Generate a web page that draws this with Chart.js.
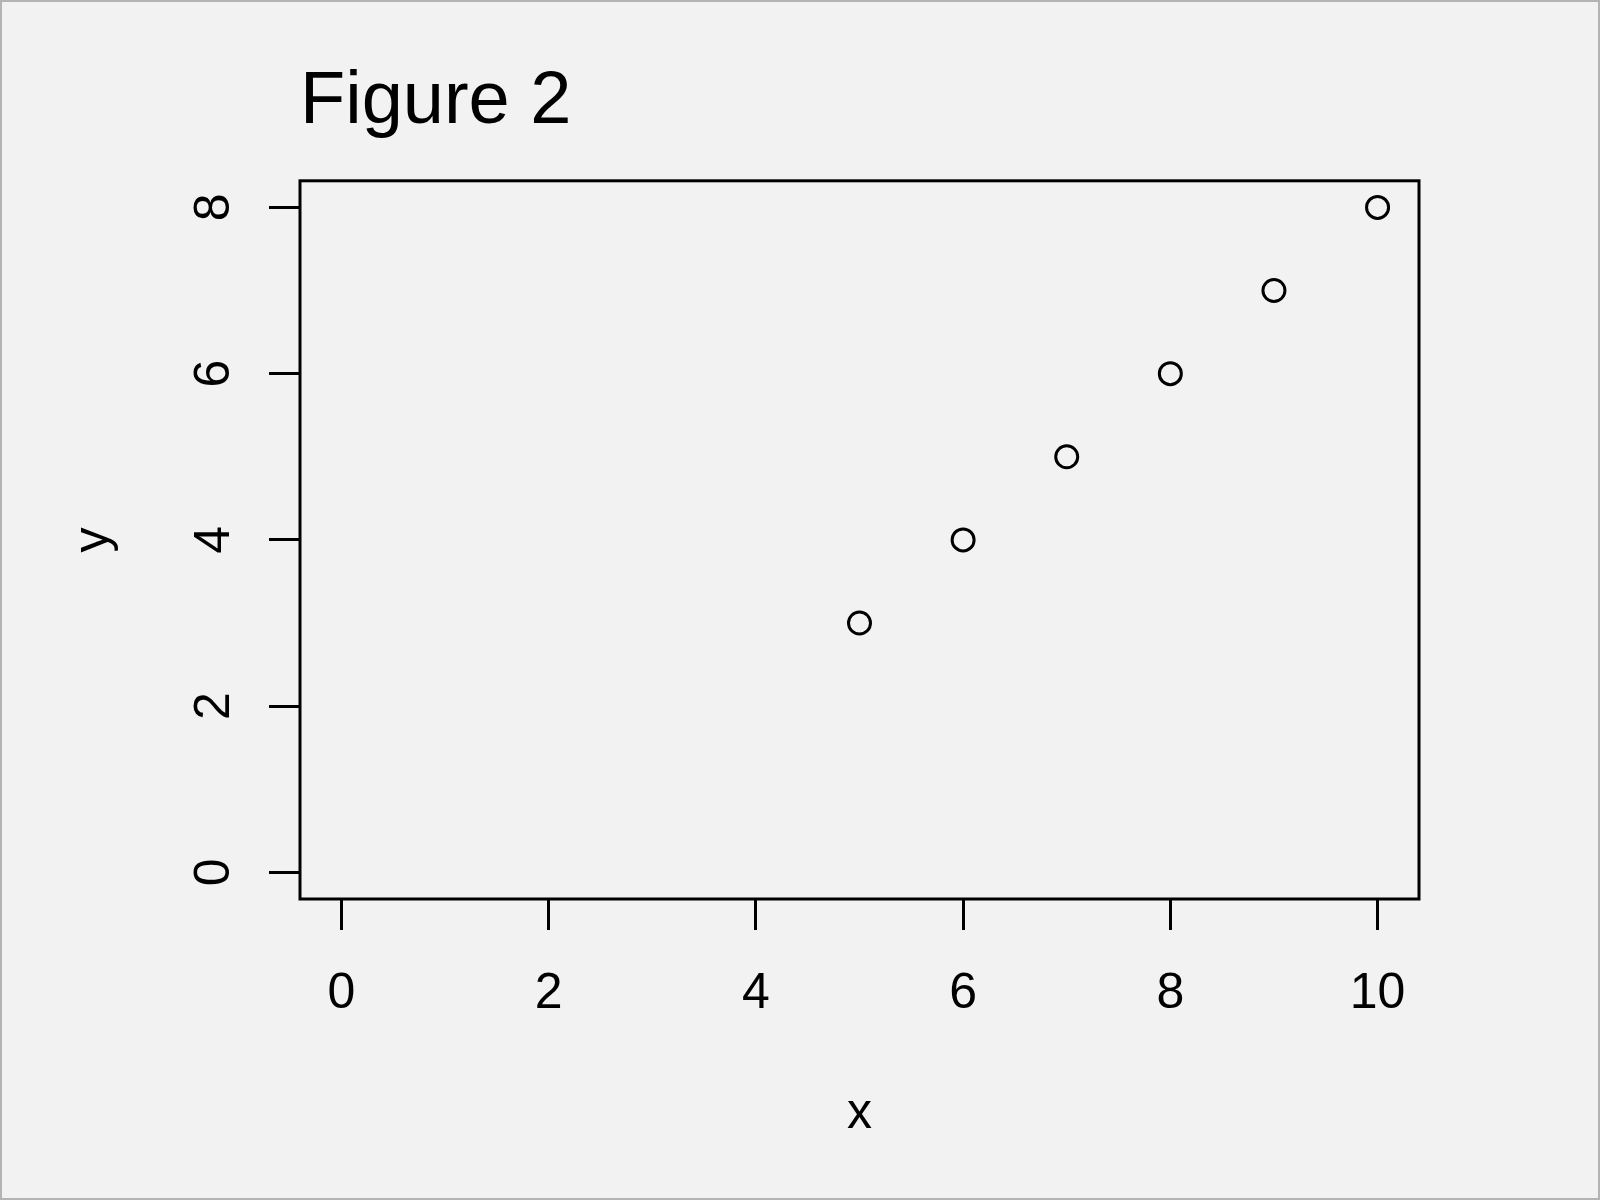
<!DOCTYPE html>
<html>
    <style>
        body {
            margin: 0;
            padding: 0;
            background-color: #f2f2f2;
        }
        #plot {
            display: block;
        }
    </style>
    <script src="https://cdn.jsdelivr.net/npm/chart.js"></script>
    <body>
        <canvas id="plot" width="1600" height="1200"></canvas>
    </body>
    <script>
        // values
        const xValues = [5, 6, 7, 8, 9, 10];
        const yValues = [3, 4, 5, 6, 7, 8];
        const xTicks = [0, 2, 4, 6, 8, 10];
        const yTicks = [0, 2, 4, 6, 8];

        Chart.defaults.font.family = "'Liberation Sans', Arial, sans-serif";
        Chart.defaults.color = '#000';

        const points = xValues.map((x, i) => ({ x: x, y: yValues[i] }));

        // grey page with a thin frame, like the R device
        const pagePlugin = {
            id: 'page',
            beforeDraw(chart) {
                const ctx = chart.ctx;
                ctx.save();
                ctx.fillStyle = '#f2f2f2';
                ctx.fillRect(0, 0, chart.width, chart.height);
                ctx.strokeStyle = '#b4b4b4';
                ctx.lineWidth = 2;
                ctx.strokeRect(1, 1, chart.width - 2, chart.height - 2);
                ctx.restore();
            },
            afterDraw(chart) {
                // the box round the plot region
                const a = chart.chartArea;
                const ctx = chart.ctx;
                ctx.save();
                ctx.strokeStyle = '#000';
                ctx.lineWidth = 3;
                ctx.strokeRect(a.left, a.top, a.right - a.left, a.bottom - a.top);
                ctx.restore();
            }
        };

        const config = {
            type: 'scatter',
            data: {
                datasets: [{
                    data: points,
                    pointStyle: 'circle',
                    pointRadius: 11,
                    pointHoverRadius: 11,
                    borderWidth: 3,
                    borderColor: '#000',
                    backgroundColor: 'rgba(0,0,0,0)',
                    showLine: false
                }]
            },
            options: {
                responsive: false,
                animation: false,
                events: [],
                layout: {
                    padding: { left: 0, right: 181, top: 0, bottom: 0 }
                },
                plugins: {
                    legend: { display: false },
                    tooltip: { enabled: false },
                    title: {
                        display: true,
                        text: 'Figure 2',
                        align: 'start',
                        fullSize: false,
                        color: '#000',
                        font: { size: 74, weight: 'normal' },
                        padding: { top: 58, bottom: 34 }
                    }
                },
                scales: {
                    x: {
                        type: 'linear',
                        position: 'bottom',
                        min: -0.4,
                        max: 10.4,
                        afterBuildTicks: (scale) => {
                            scale.ticks = xTicks.map(v => ({ value: v }));
                        },
                        afterFit: (scale) => {
                            scale.height = 301;
                        },
                        border: { display: false },
                        grid: {
                            drawOnChartArea: false,
                            drawTicks: true,
                            tickLength: 31,
                            tickColor: '#000',
                            tickWidth: 3
                        },
                        ticks: {
                            padding: 34,
                            autoSkip: false,
                            maxRotation: 0,
                            color: '#000',
                            font: { size: 50 }
                        },
                        title: {
                            display: true,
                            text: 'x',
                            color: '#000',
                            font: { size: 50 },
                            padding: { top: 0, bottom: 56 }
                        }
                    },
                    y: {
                        type: 'linear',
                        position: 'left',
                        min: -0.32,
                        max: 8.32,
                        afterBuildTicks: (scale) => {
                            scale.ticks = yTicks.map(v => ({ value: v }));
                        },
                        afterFit: (scale) => {
                            scale.width = 300;
                        },
                        border: { display: false },
                        grid: {
                            drawOnChartArea: false,
                            drawTicks: true,
                            tickLength: 31,
                            tickColor: '#000',
                            tickWidth: 3
                        },
                        ticks: {
                            padding: 40,
                            autoSkip: false,
                            minRotation: 90,
                            maxRotation: 90,
                            crossAlign: 'center',
                            color: '#000',
                            font: { size: 50 }
                        },
                        title: {
                            display: true,
                            text: 'y',
                            color: '#000',
                            font: { size: 50 },
                            padding: { top: 64, bottom: 0 }
                        }
                    }
                }
            },
            plugins: [pagePlugin]
        };

        const plotChart = new Chart(document.getElementById('plot'), config);
    </script>
</html>
